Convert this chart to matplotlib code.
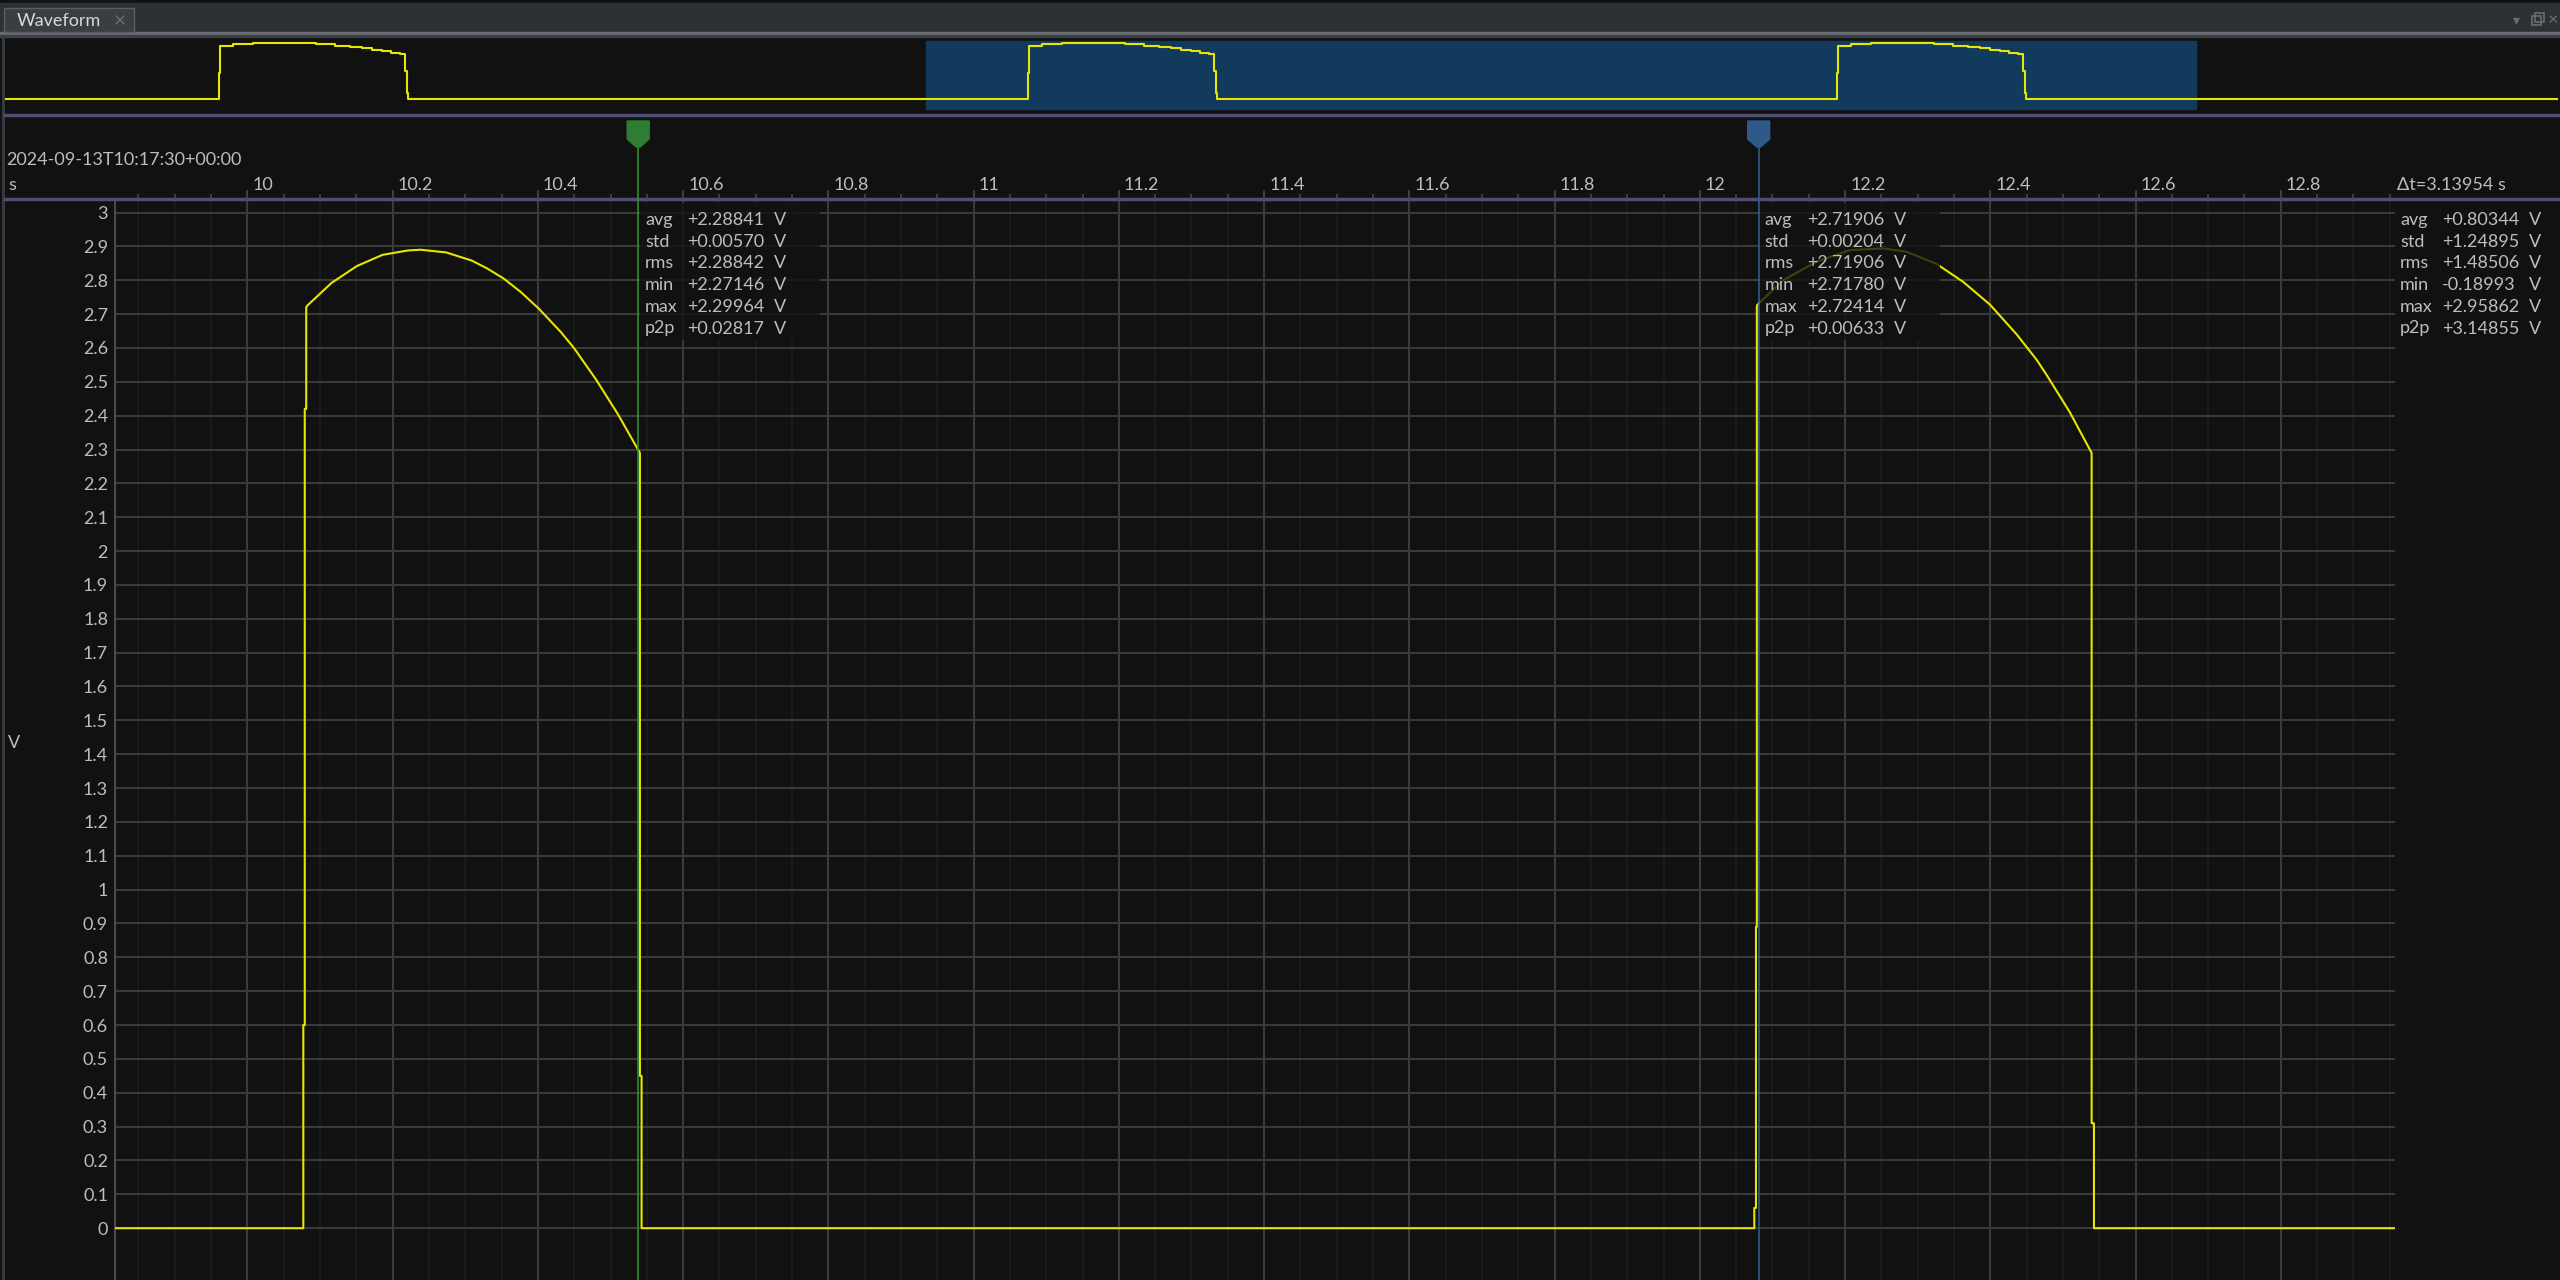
import numpy as np
import matplotlib.pyplot as plt
from matplotlib.patches import Rectangle, Polygon

plt.rcParams['font.family'] = ['Lato', 'DejaVu Sans']

# ---- data ----
view_start = 9.8177
view_span = 3.13954          # Δt shown at top right

# main trace (time in s, volts)
trace_t = [9.80, 10.0770, 10.0770, 10.0790, 10.0790, 10.0810, 10.0810,
           10.0825, 10.1158, 10.1509, 10.1862, 10.2213, 10.2388, 10.2739,
           10.3090, 10.3300, 10.3529, 10.3760, 10.4013, 10.4320, 10.4496,
           10.4800, 10.5100, 10.5405, 10.5405, 10.5428, 10.5428,
           12.0750, 12.0750, 12.0773, 12.0773, 12.0785, 12.0785,
           12.0790, 12.1148, 12.1608, 12.2067, 12.2526, 12.2848, 12.3261,
           12.3627, 12.3995, 12.4363, 12.4638, 12.4776, 12.5095,
           12.5395, 12.5395, 12.5427, 12.5427, 12.97]
trace_v = [0.0, 0.0, 0.60, 0.60, 2.42, 2.42, 2.72,
           2.725, 2.792, 2.842, 2.875, 2.888, 2.890, 2.882,
           2.858, 2.835, 2.805, 2.766, 2.716, 2.646, 2.600,
           2.507, 2.405, 2.290, 0.45, 0.45, 0.0,
           0.0, 0.06, 0.06, 0.89, 0.89, 2.72,
           2.727, 2.800, 2.855, 2.889, 2.894, 2.884, 2.848,
           2.795, 2.728, 2.640, 2.565, 2.520, 2.410,
           2.290, 0.31, 0.31, 0.0, 0.0]

# overview strip: decimated pulse shape (offset from pulse start, volts)
ov_pulse_starts = [8.07, 10.07, 12.07]
ov_dt = [0.0, 0.0033, 0.0342, 0.0827, 0.2403, 0.2877, 0.3230, 0.3527,
         0.3780, 0.4023, 0.4255, 0.4464, 0.4608, 0.4640, 0.4674]
ov_v = [1.35, 2.72, 2.82, 2.89, 2.80, 2.74, 2.67, 2.60,
        2.53, 2.45, 2.38, 2.33, 1.44, 0.32, 0.0]

cursor_a = 10.5381
cursor_b = 12.0810

xtick_labels = ['10', '10.2', '10.4', '10.6', '10.8', '11', '11.2', '11.4',
                '11.6', '11.8', '12', '12.2', '12.4', '12.6', '12.8']
ytick_labels = ['0', '0.1', '0.2', '0.3', '0.4', '0.5', '0.6', '0.7', '0.8',
                '0.9', '1', '1.1', '1.2', '1.3', '1.4', '1.5', '1.6', '1.7',
                '1.8', '1.9', '2', '2.1', '2.2', '2.3', '2.4', '2.5', '2.6',
                '2.7', '2.8', '2.9', '3']

stat_names = ['avg', 'std', 'rms', 'min', 'max', 'p2p']
stats_a = ['+2.28841', '+0.00570', '+2.28842', '+2.27146', '+2.29964', '+0.02817']
stats_b = ['+2.71906', '+0.00204', '+2.71906', '+2.71780', '+2.72414', '+0.00633']
stats_all = ['+0.80344', '+1.24895', '+1.48506', '-0.18993', '+2.95862', '+3.14855']

# ---- style ----
BG = '#111111'
YELLOW = '#e6e600'
GRID = '#3a3a3a'
MINOR = '#1d1d1d'
TXT = '#bdbdbd'
SEP = '#4e4e72'
GREEN = '#2e7d32'
BLUE = '#2e5a8a'
FS = 13

W, H = 2560, 1280
MAIN_L, MAIN_R, MAIN_T = 115, 2395, 201
OV_L, OV_R, OV_T, OV_B = 5, 2558, 37, 113
BLUE_L = 926
ov_px_per_s = 404.5


def rect(l, t, r, b):
    return [l / W, 1 - b / H, (r - l) / W, (b - t) / H]


def t2px(t):
    return MAIN_L + (t - view_start) / view_span * (MAIN_R - MAIN_L)


fig = plt.figure(figsize=(25.6, 12.8), dpi=100, facecolor=BG)

# overview strip
ax_ov = fig.add_axes(rect(OV_L, OV_T, OV_R, OV_B), facecolor=BG)
ov_left = view_start - (BLUE_L - OV_L) / ov_px_per_s
ov_right = view_start + (OV_R - BLUE_L) / ov_px_per_s
ot, ovals = [ov_left], [0.0]
for p in ov_pulse_starts:
    for dt, v in zip(ov_dt, ov_v):
        ot.append(p + dt)
        ovals.append(v)
ot.append(ov_right)
ovals.append(0.0)
ax_ov.axvspan(view_start, view_start + view_span, ymin=0.053, ymax=0.947,
              color='#123a5c', zorder=1)
ax_ov.step(ot, ovals, where='post', color=YELLOW, lw=1.5, zorder=3)
ax_ov.set_xlim(ov_left, ov_right)
ax_ov.set_ylim(-0.72, 3.18)
ax_ov.axis('off')

# main plot
ax = fig.add_axes(rect(MAIN_L, MAIN_T, MAIN_R, H), facecolor=BG)
ax.set_xlim(view_start, view_start + view_span)
ax.set_ylim(-0.153, 3.034)
for t in np.arange(9.85, 12.96, 0.05):
    ax.axvline(t, color=MINOR, lw=1.2, zorder=0)
xticks = [float(s) for s in xtick_labels]
yticks = [float(s) for s in ytick_labels]
for t in xticks:
    ax.axvline(t, color=GRID, lw=1.5, zorder=1)
for v in yticks:
    ax.axhline(v, color=GRID, lw=1.5, zorder=1)
ax.plot(trace_t, trace_v, color=YELLOW, lw=1.5, zorder=3)
ax.axvline(cursor_a, color='#2f8f2f', lw=1.2, zorder=4)
ax.axvline(cursor_b, color=BLUE, lw=1.2, zorder=4)
ax.set_xticks([])
ax.set_yticks(yticks, ytick_labels)
ax.tick_params(axis='y', colors=TXT, labelsize=FS, length=0, pad=5)
for s in ['top', 'right', 'bottom']:
    ax.spines[s].set_visible(False)
ax.spines['left'].set_color('#4a4a4a')
ax.spines['left'].set_linewidth(1.5)

# overlay in pixel coordinates: window chrome, ruler, markers, stats
top = fig.add_axes([0, 0, 1, 1], zorder=5)
top.set_xlim(0, W)
top.set_ylim(H, 0)
top.axis('off')
top.patch.set_alpha(0)

top.add_patch(Rectangle((0, 3), W, 29, color='#2d3135', zorder=1))
top.add_patch(Rectangle((0, 32), W, 2.5, color='#6a6e73', zorder=1))
top.add_patch(Rectangle((0, 34.5), W, 2.5, color='#3c4044', zorder=1))
top.add_patch(Rectangle((4, 8), 130, 24, facecolor='#3a3e43',
                        edgecolor='#5a5e63', lw=1, zorder=2))
top.text(17, 21, 'Waveform', color='#d8d8d8', fontsize=FS, va='center', zorder=3)
top.text(114, 21, '×', color='#6a6e73', fontsize=FS + 2, va='center', zorder=3)
top.text(2516, 20, '▾', color='#6a6e73', fontsize=10, ha='center', va='center', zorder=3)
top.add_patch(Rectangle((2532, 16), 9, 9, fill=False, edgecolor='#6a6e73', lw=1.2, zorder=3))
top.add_patch(Rectangle((2535, 13), 9, 9, fill=False, edgecolor='#6a6e73', lw=1.2, zorder=3))
top.text(2548, 20, '×', color='#6a6e73', fontsize=FS, va='center', zorder=3)

top.plot([3, 3], [37, H], color='#3a3d40', lw=2)
top.plot([5, W], [115, 115], color=SEP, lw=2.5)
top.plot([5, W], [199, 199], color=SEP, lw=2.5)

top.text(6, 160, '2024-09-13T10:17:30+00:00', color=TXT, fontsize=FS, va='center')
top.text(8, 185, 's', color=TXT, fontsize=FS, va='center')
top.text(8, 743, 'V', color=TXT, fontsize=FS, va='center')
for t, lab in zip(xticks, xtick_labels):
    top.text(t2px(t) + 5, 185, lab, color=TXT, fontsize=FS, va='center')
for t in np.arange(9.85, 12.96, 0.05):
    major = any(abs(t - x) < 1e-6 for x in xticks)
    top.plot([t2px(t)] * 2, [199 - (8 if major else 4), 199],
             color='#4a4a4a', lw=1.2)
top.text(2397, 185, 'Δt=3.13954 s', color=TXT, fontsize=FS, va='center')

for c, fc, lc in [(cursor_a, GREEN, '#2f8f2f'), (cursor_b, BLUE, BLUE)]:
    cx = t2px(c)
    top.add_patch(Polygon([(cx - 11, 121), (cx + 11, 121), (cx + 11, 139),
                           (cx + 2, 147), (cx - 2, 147), (cx - 11, 139)],
                          closed=True, color=fc, zorder=4))
    top.plot([cx, cx], [140, MAIN_T], color=lc, lw=1.2, zorder=3)

for x0, vals, box in [(t2px(cursor_a) + 7, stats_a, True),
                      (t2px(cursor_b) + 6, stats_b, True),
                      (2400, stats_all, False)]:
    if box:
        top.add_patch(Rectangle((x0 - 5, 203), 180, 137, color=BG,
                                alpha=0.78, lw=0, zorder=2))
    for i, (name, val) in enumerate(zip(stat_names, vals)):
        y = 220 + 21.7 * i
        top.text(x0, y, name, color=TXT, fontsize=FS, va='center', zorder=3)
        top.text(x0 + 42, y, val, color=TXT, fontsize=FS, va='center', zorder=3)
        top.text(x0 + 129, y, 'V', color=TXT, fontsize=FS, va='center', zorder=3)

fig.savefig('out.png', dpi=100, facecolor=BG)
